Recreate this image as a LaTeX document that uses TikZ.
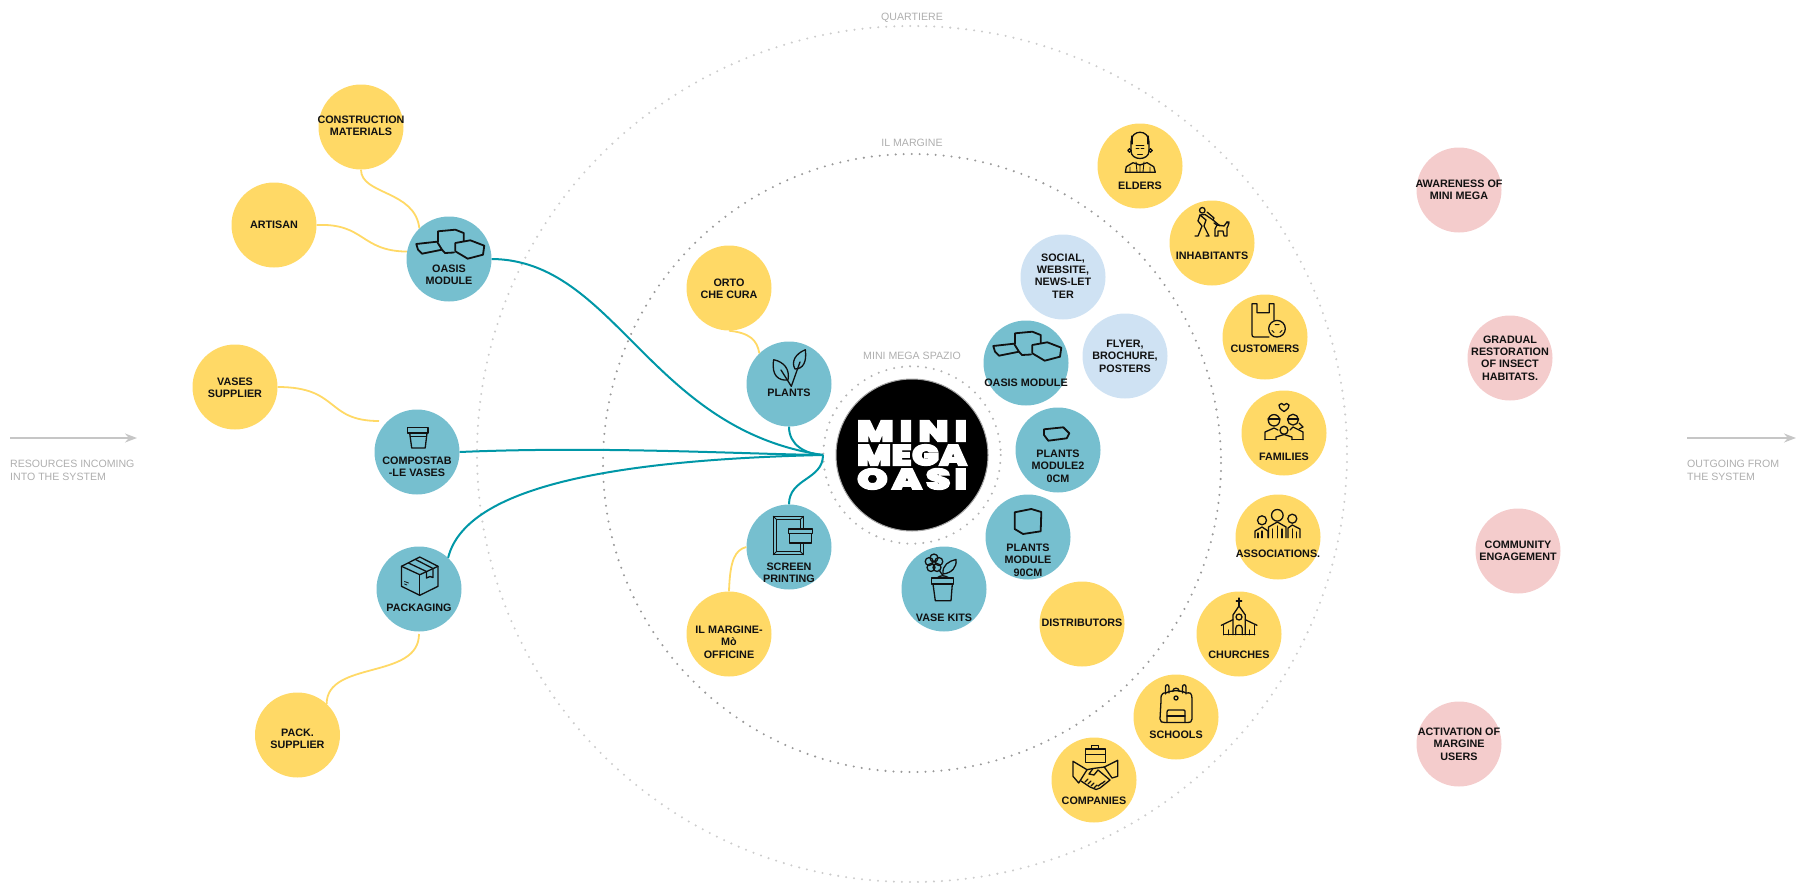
\documentclass[tikz,border=0pt]{standalone}
\usepackage{fontspec}
\setmainfont{Liberation Sans}
\newfontfamily\logofont[FakeBold=4]{Poppins Black}
\usetikzlibrary{arrows.meta,calc}
\definecolor{yel}{HTML}{FFD966}
\definecolor{tea}{HTML}{76BFCF}
\definecolor{blu}{HTML}{CFE2F3}
\definecolor{pnk}{HTML}{F4CCCC}
\definecolor{lnk}{HTML}{0097A7}
\definecolor{ink}{HTML}{111111}
\definecolor{gtx}{HTML}{AEAEAE}
\tikzset{
  bubble/.style={circle,inner sep=0pt,minimum size=85pt,draw=none},
  ybub/.style={bubble,fill=yel},
  tbub/.style={bubble,fill=tea},
  bbub/.style={bubble,fill=blu},
  pbub/.style={bubble,fill=pnk},
  lab/.style={inner sep=0pt,align=center,text=ink,font=\fontsize{10.8}{12.4}\selectfont\bfseries},
  glab/.style={inner sep=0pt,align=left,text=gtx,font=\fontsize{10.6}{12.6}\selectfont},
  ylink/.style={draw=yel,line width=1.8pt},
  tlink/.style={draw=lnk,line width=2pt},
  ring/.style={line width=2.3pt,line cap=round,dash pattern=on 0pt off 8pt},
  flow/.style={draw=gray!45,line width=1.7pt,-{Stealth[length=12pt,width=9pt]}},
  icon/.style={draw=ink,line width=1.3pt,line join=round,line cap=round},
  logoline/.style={inner sep=0pt,text=white},
}
\newcommand\bub[6]{\node[#1] (#2) at (#3,#4) {}; \node[lab] (#2t) at (#3,#4+#5+1) {#6};}
\newcommand\icoAt[2]{\begin{scope}[shift={(#1.center)},icon]#2\end{scope}}
\newcommand\OasisIco{%
  \draw[line width=1.8pt] (-32.7,-15)--(-12,-17.3)--(-7,-9.3)--(-27,-5.3)--(-31,-9.3)--cycle;
  \draw[line width=1.8pt] (-11,-17.3)--(-11,-27.7)--(6.3,-29.3)--(14.7,-26)--(14.7,-17.7);
  \draw[line width=1.8pt] (-7,-9.3)--(-4,-6)--(5,-6.5);
  \draw[line width=1.8pt] (6.3,-16)--(21.3,-18.7)--(35.3,-13.3)--(34,-4.3)--(18.7,-0.3)--(6.3,-7.7)--cycle;}
\begin{document}
\begin{tikzpicture}[x=1pt,y=-1pt]
\useasboundingbox (0,0) rectangle (1796,883);
% rings
\draw[ring,draw=gray!40] (912,454) ellipse [x radius=435,y radius=428];
\draw[ring,draw=gray!80] (912,463) circle (309);
\draw[ring,draw=gray!60] (912,455) circle (88.7);
\node[glab] (lq) at (912,17.5) {QUARTIERE};
\node[glab] (lm) at (912,143) {IL MARGINE};
\node[glab] (ls) at (912,356) {MINI MEGA SPAZIO};
% flows
\coordinate (inA) at (10,438); \coordinate (inB) at (137,438);
\coordinate (outA) at (1687,438); \coordinate (outB) at (1796,438);
\draw[flow] (inA)--(inB);
\draw[flow] (outA)--(outB);
\node[glab,anchor=north west] (lin) at (10,460) {RESOURCES INCOMING\\INTO THE SYSTEM};
\node[glab,anchor=north west] (lout) at (1687,460) {OUTGOING FROM\\THE SYSTEM};
% centre
\node[circle,fill=black,draw=gray!70,line width=1pt,inner sep=0pt,minimum size=152pt] (core) at (912,455) {};
\node[logoline] (l1) at (912,431) {\resizebox{110pt}{21pt}{\logofont M\hspace{1.6pt}I\hspace{1.6pt}N\hspace{1.6pt}I}};
\node[logoline] (l2) at (912,455) {\resizebox{110pt}{21pt}{\logofont M\hspace{.1pt}E\hspace{.1pt}G\hspace{.1pt}A}};
\node[logoline] (l3) at (912,479) {\resizebox{110pt}{21pt}{\logofont O\hspace{1pt}A\hspace{1pt}S\hspace{1pt}I}};
% bubbles left
\bub{ybub}{constr}{361}{127}{-2}{CONSTRUCTION\\MATERIALS}
\bub{ybub}{artisan}{274}{225}{-1}{ARTISAN}
\bub{tbub}{oasis}{449}{259}{15}{OASIS\\MODULE}
\bub{ybub}{vases}{235}{387}{0}{VASES\\SUPPLIER}
\bub{tbub}{compost}{417}{452}{14}{COMPOSTAB\\-LE VASES}
\bub{tbub}{packg}{419}{589}{18}{PACKAGING}
\bub{ybub}{packs}{297.5}{735}{3}{PACK.\\SUPPLIER}
% inner left
\bub{ybub}{orto}{729}{288}{0}{ORTO\\CHE CURA}
\bub{tbub}{plants}{789}{384}{8}{PLANTS}
\bub{tbub}{screen}{789}{547}{25}{SCREEN\\PRINTING}
\bub{ybub}{margine}{729}{634}{7}{IL MARGINE-\\M\`o\\OFFICINE}
% inner right
\bub{bbub}{social}{1063}{277}{-2}{SOCIAL,\\WEBSITE,\\NEWS-LET\\TER}
\bub{bbub}{flyer}{1125}{356}{-1}{FLYER,\\BROCHURE,\\POSTERS}
\bub{tbub}{oasisb}{1026}{363}{19}{OASIS MODULE}
\bub{tbub}{modA}{1058}{450}{15}{PLANTS\\MODULE2\\0CM}
\bub{tbub}{modB}{1028}{537}{22}{PLANTS\\MODULE\\90CM}
\bub{tbub}{kits}{944}{589}{28}{VASE KITS}
\bub{ybub}{distr}{1082}{624}{-2}{DISTRIBUTORS}
% outer right
\bub{ybub}{elders}{1140}{166}{19}{ELDERS}
\bub{ybub}{inhab}{1212}{243}{12}{INHABITANTS}
\bub{ybub}{cust}{1265}{337}{11}{CUSTOMERS}
\bub{ybub}{fam}{1284}{433}{23}{FAMILIES}
\bub{ybub}{assoc}{1278}{537}{16}{ASSOCIATIONS.}
\bub{ybub}{church}{1239}{634}{20}{CHURCHES}
\bub{ybub}{school}{1176}{717}{17}{SCHOOLS}
\bub{ybub}{comp}{1094}{780}{20}{COMPANIES}
% pink
\bub{pbub}{aware}{1459}{190}{-1}{AWARENESS OF\\MINI MEGA}
\bub{pbub}{grad}{1510}{358}{-1}{GRADUAL\\RESTORATION\\OF INSECT\\HABITATS.}
\bub{pbub}{commu}{1518}{551}{-1}{COMMUNITY\\ENGAGEMENT}
\bub{pbub}{activ}{1459}{744}{-1}{ACTIVATION OF\\MARGINE\\USERS}
% connectors
\coordinate (hub) at (823,455);
\coordinate (cVases) at (379,421);
\coordinate (cPack) at (419,634);
\draw[tlink] (oasis.east) .. controls (615,260) and (650,430) .. (hub);
\draw[tlink] (compost.east) .. controls (600,446) and (740,454) .. (hub);
\draw[tlink] (packg.47) .. controls (465,490) and (600,460) .. (hub);
\draw[tlink] (plants.south) .. controls (789,445) and (805,454) .. (hub);
\draw[tlink] (screen.north) .. controls (789,478) and (823,480) .. (hub);
\draw[ylink] (constr.south) .. controls (361,195) and (415,190) .. (oasis.134);
\draw[ylink] (artisan.east) .. controls (365,223) and (360,251) .. (oasis.170);
\draw[ylink] (vases.east) .. controls (340,387) and (325,421) .. (cVases);
\draw[ylink] (orto.south) .. controls (750,333) and (757,340) .. (plants.134);
\draw[ylink] (margine.north) .. controls (730,560) and (735,550) .. (screen.180);
\draw[ylink] (cPack) .. controls (419,680) and (327,660) .. (packs.47);
% icons
\icoAt{oasis}{\OasisIco}
\icoAt{oasisb}{\begin{scope}[yshift=2pt]\OasisIco\end{scope}}
\icoAt{modA}{\draw[line width=1.8pt] (-14,-20.7)--(5.3,-22.7)--(11.3,-16.7)--(8.7,-11.7)--(-9.7,-9.3)--(-14,-15)--cycle;}
\icoAt{modB}{\draw[line width=1.8pt] (-13.3,-24.7)--(3.3,-28)--(13.3,-25)--(12.7,-5.7)--(-5,-3)--(-13.3,-8)--cycle;}
\icoAt{compost}{
  \draw (-9.4,-24.3) rectangle (10.9,-19);
  \draw (-7.3,-19)--(-5.3,-4)--(8.2,-4)--(10,-19);
  \draw (-6.8,-15.5)--(9.5,-15.5);}
\icoAt{packg}{
  \draw (0.8,-32)--(-17.5,-22.7)--(-17.5,-2.7)--(0.8,6.3)--(19,-2.7)--(19,-22.7)--cycle;
  \draw (-17.5,-22.7)--(0.8,-14.3)--(19,-22.7);
  \draw (0.8,-14.3)--(0.8,6.3);
  \draw (-10.5,-26)--(7.5,-17.5)--(7.5,-11)--(11,-12.5)--(14,-11.5)--(14,-20.5)--(-3.5,-29.5);
  \draw[line width=.8pt] (-14.5,-7.5)--(-10.5,-6);
  \draw[line width=.8pt] (-14.5,-5)--(-12,-4);}
\icoAt{screen}{
  \draw (-15.7,-30.7) rectangle (14.3,7.7);
  \draw[line width=.9pt] (-12.3,-27.3) rectangle (11,4.3);
  \draw[line width=.9pt] (-15.7,-30.7)--(-12.3,-27.3) (14.3,-30.7)--(11,-27.3) (-15.7,7.7)--(-12.3,4.3) (14.3,7.7)--(11,4.3);
  \draw[fill=tea] (0.3,-13.3) rectangle (22.7,-4);
  \draw[fill=tea] (-0.7,-18) rectangle (23.7,-13.3);}
\icoAt{plants}{
  \draw (-15.3,-24.3) .. controls (-18,-8) and (-10,-3) .. (-1,-4) .. controls (1,-15) and (-5,-22) .. cycle;
  \draw (16.3,-34.3) .. controls (6,-30) and (2,-22) .. (6,-15) .. controls (14,-15) and (18,-22) .. cycle;
  \draw (2.3,2.3)--(-8,-14);
  \draw (2.3,2.3)--(11,-22);}
\icoAt{kits}{
  \draw (-12.7,-11) rectangle (9.7,-5);
  \draw (-11,-5)--(-8.7,11.7)--(7,11.7)--(8.3,-5);
  \draw (-7,-11) .. controls (-4,-14) and (1,-14) .. (5,-11);
  \draw (-1.5,-14)--(-5,-19);
  \draw (-10,-31) circle (4);
  \draw (-14.8,-27.5) circle (4);
  \draw (-5.2,-27.5) circle (4);
  \draw (-13,-21.5) circle (4);
  \draw (-7,-21.5) circle (4);
  \draw (-10,-26) circle (2);
  \draw (-1,-15) .. controls (-2,-24) and (5,-28) .. (12,-29.5) .. controls (13,-22) and (8,-16) .. cycle;}
\icoAt{elders}{
  \draw (-9,-24) .. controls (-9,-37) and (9,-37) .. (9,-24)--(9,-15) .. controls (9,-5) and (-9,-5) .. (-9,-15)--cycle;
  \draw (-10.5,-15.5) circle (1.8);
  \draw (10.5,-15.5) circle (1.8);
  \draw (-8,-30)--(-8,-22);
  \draw (8,-30)--(8,-22);
  \draw[line width=.9pt] (-4,-21)--(4,-21) (-4,-18)--(-1,-18) (1,-18)--(4,-18);
  \draw[line width=.9pt] (-2.5,-12)--(2.5,-12);
  \draw (-14.7,6.3)--(-13.7,0.7)--(-7,-3.3)--(0,-1)--(7,-3.3)--(13.7,0.7)--(15.3,6.3)--cycle;
  \draw[line width=.9pt] (-4,-4)--(-3,6) (4,-4)--(3,6) (-10,1)--(-10,6) (10,1)--(10,6) (0,-1)--(0,6);}
\icoAt{inhab}{
  \draw (-9.7,-32.7) circle (2.8);
  \draw (-12,-28)--(-7,-28.5)--(1,-23)--(2,-25)--(-5,-31);
  \draw (-14,-22)--(-12,-28)--(-6,-23)--(-8,-17)--(-3,-7)--(-6,-7);
  \draw (-14,-22)--(-10,-17)--(-14,-7)--(-17,-7);
  \draw (1,-23)--(8,-17);
  \draw (3,-7)--(3,-14)--(5,-18)--(12,-17)--(15,-21)--(17,-19);
  \draw (5,-18)--(2,-20);
  \draw (15,-21)--(17,-21)--(16,-17)--(15,-15)--(15,-7)--(12,-7)--(11,-12)--(6,-12)--(6,-7)--(3,-7);}
\icoAt{cust}{
  \draw (4,0)--(-11,0) .. controls (-12.5,0) and (-13,-1) .. (-13,-2.5)--(-13,-33.3)--(-8,-33.3)--(-8,-24.3)--(4.3,-24.3)--(4.3,-33.3)--(9,-33.3)--(9,-17);
  \draw (12,-8.3) circle (8.3);
  \draw[line width=1pt] (10,-12.5)--(14,-12.5) (7,-6.5)--(9,-4.5) (15,-4.5)--(17,-6.5);}
\icoAt{fam}{
  \draw (0,-21.5) .. controls (-4,-24) and (-5.5,-26) .. (-5,-28) .. controls (-4,-30) and (-1,-30) .. (0,-28) .. controls (1,-30) and (4,-30) .. (5,-28) .. controls (5.5,-26) and (4,-24) .. cycle;
  \draw (-10,-12.7) circle (5.7);
  \draw (9,-13.3) circle (5.4);
  \draw (-16,-14)--(-4,-14) (3.5,-14)--(14.5,-14);
  \draw (0,-2.7) circle (4);
  \draw (-19,6.7)--(-19,-1)--(-10,-5)--(-6,-3);
  \draw (19,6.7)--(19,-1)--(9,-6)--(6,-3);
  \draw (-19,6.7)--(-8,6.7) (8,6.7)--(19,6.7);
  \draw (-8,6.7)--(-8,4)--(0,1.5)--(8,4)--(8,6.7);
  \draw (15,-10)--(19,-6)--(15,-4);}
\icoAt{assoc}{
  \draw (-16,-16.7) circle (4.5);
  \draw (-0.7,-21.7) circle (5.8);
  \draw (14.3,-18.3) circle (4.5);
  \draw (-23,0.7)--(-23,-6)--(-16,-10)--(-10,-6)--(-10,0.7);
  \draw (-20,-4)--(-20,0.7) (-16,-6)--(-16,0.7);
  \draw (-9.5,0.7)--(-9.5,-10)--(-0.7,-15)--(8,-10)--(8,0.7);
  \draw (-5.5,-8)--(-5.5,0.7) (4,-8)--(4,0.7) (-0.7,-11)--(-0.7,0.7);
  \draw (10,0.7)--(10,-9)--(14.3,-12)--(22,-8)--(22,0.7);
  \draw (18.5,-5)--(18.5,0.7) (14.3,-8)--(14.3,0.7);}
\icoAt{church}{
  \draw (0,-36)--(0,-28) (-2.7,-33)--(2.7,-33);
  \draw (-6,0.7)--(-6,-19)--(0,-28)--(6.3,-19)--(6.3,0.7);
  \draw (-15.3,0.7)--(15.7,0.7);
  \draw (-17.7,-8.7)--(-6,-14.3) (18,-8.7)--(6.3,-14.3);
  \draw (-15.3,-8.7)--(-15.3,0.7) (15.7,-8.7)--(15.7,0.7);
  \draw (0,-17) circle (3);
  \draw (-3.3,0.7)--(-3.3,-5.5) .. controls (-3.3,-10) and (3.3,-10) .. (3.3,-5.5)--(3.3,0.7);
  \draw (-10.3,-4)--(-10.3,0.7) (10.7,-4)--(10.7,0.7);}
\icoAt{school}{
  \draw (-15,-16) .. controls (-16,-26) and (-10,-24) .. (-10,-24) .. controls (-5,-27) and (5,-27) .. (10,-24) .. controls (14,-24) and (16,-26) .. (16,-16)--(16,2) .. controls (16,5) and (14,5.5) .. (12,5.5)--(-11,5.5) .. controls (-14,5.5) and (-16,5) .. (-16,2)--cycle;
  \draw (-10.5,-23)--(-10.5,-30) .. controls (-10.5,-33) and (-7,-33) .. (-7,-30)--(-7,-24);
  \draw (6.5,-24)--(6.5,-30) .. controls (6.5,-33) and (10,-33) .. (10,-30)--(10,-23);
  \draw (-3.3,-25.5) .. controls (-3.3,-30) and (3.3,-30) .. (3.3,-25.5);
  \draw (0,-19) circle (2);
  \draw (-9,5.5)--(-9,-5) .. controls (-9,-7) and (-8,-7) .. (-7,-7)--(7,-7) .. controls (9,-7) and (9,-7) .. (9,-5)--(9,5.5);
  \draw (-9,-1)--(9,-1);}
\icoAt{comp}{
  \draw (-8.7,-31) rectangle (11.3,-17.7);
  \draw (-2.7,-31)--(-2.7,-34.5)--(4.7,-34.5)--(4.7,-31);
  \draw[line width=.9pt] (-8.7,-26)--(11.3,-26);
  \draw (-21,-18.7)--(-7,-10.3)--(-15.3,3)--(-21,-3.7)--cycle;
  \draw (23.7,-19.7)--(23.7,-3.7)--(18,-2)--(10.3,-13)--cycle;
  \draw (-7,-10.3)--(-1,-11.5)--(10.3,-13);
  \draw (-1,-11.5)--(-5,-6)--(0,-5)--(4,-10)--(16,0)--(6,8)--(2,9.5)--(-4,7)--(-13,1);
  \draw (-9,2)--(-6,-1) (-6,4)--(-3,1) (-3,6)--(0,3) (0,8)--(3,5) (4,6)--(8,3) (8,3.5)--(11,1);}
\end{tikzpicture}
\end{document}
